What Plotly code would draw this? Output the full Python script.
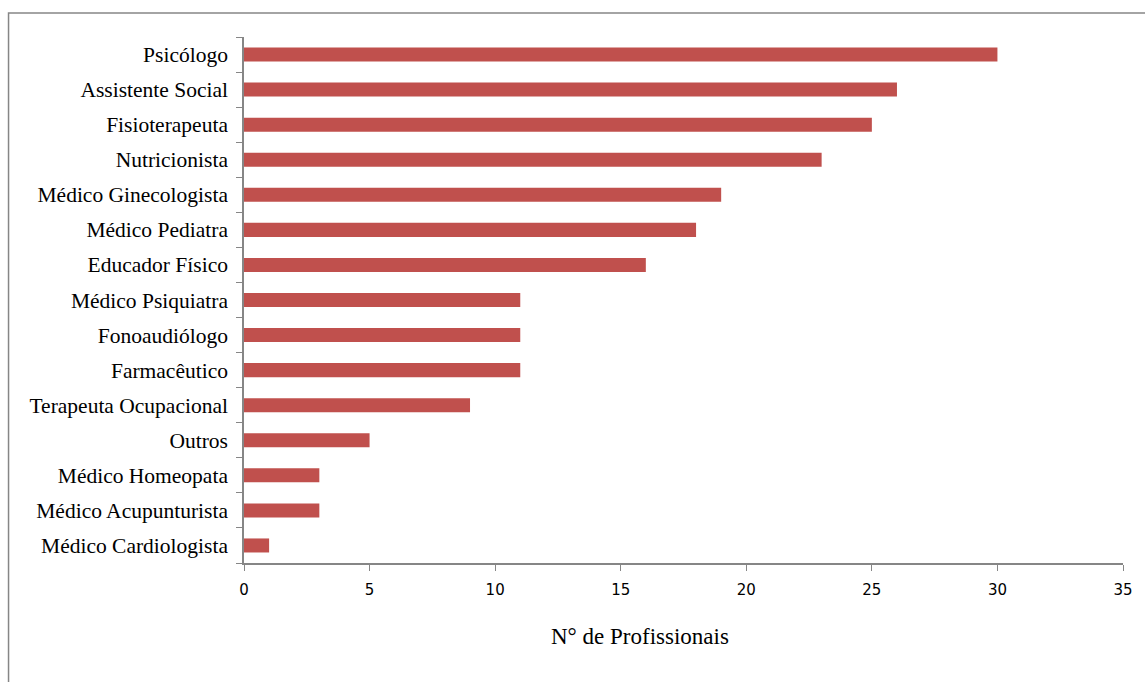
import plotly.graph_objects as go

# Professionals by specialty (bottom to top in drawing order)
categories = [
    "Médico Cardiologista", "Médico Acupunturista", "Médico Homeopata", "Outros",
    "Terapeuta Ocupacional", "Farmacêutico", "Fonoaudiólogo", "Médico Psiquiatra",
    "Educador Físico", "Médico Pediatra", "Médico Ginecologista", "Nutricionista",
    "Fisioterapeuta", "Assistente Social", "Psicólogo",
]
counts = [1, 3, 3, 5, 9, 11, 11, 11, 16, 18, 19, 23, 25, 26, 30]
x_ticks = [0, 5, 10, 15, 20, 25, 30, 35]

W, H = 1145, 682
L, R, T, B = 244, 20, 37, 119
pw, ph = W - L - R, H - T - B

fig = go.Figure(go.Bar(
    x=counts, y=categories, orientation="h",
    marker=dict(color="#C0504D", line=dict(width=0)),
    width=0.4,
))

axis_col = "#868686"
fig.update_layout(
    width=W, height=H,
    margin=dict(l=L, r=R, t=T, b=B, pad=0),
    paper_bgcolor="white", plot_bgcolor="white",
    showlegend=False,
    xaxis=dict(
        range=[0, 35], tickvals=x_ticks, showgrid=False, zeroline=False,
        showline=True, linecolor=axis_col, linewidth=1.5,
        ticks="outside", ticklen=6, tickcolor=axis_col, tickwidth=1,
        tickfont=dict(family="DejaVu Sans", size=15, color="#000000"),
        ticklabelstandoff=6,
    ),
    yaxis=dict(
        showgrid=False, zeroline=False, tickson="boundaries",
        showline=True, linecolor=axis_col, linewidth=1.5,
        ticks="outside", ticklen=6, tickcolor=axis_col, tickwidth=1,
        tickfont=dict(family="Liberation Serif", size=21.5, color="#000000"),
        ticklabelstandoff=10,
    ),
    annotations=[dict(
        text="N° de Profissionais", xref="paper", yref="paper",
        x=(641 - L) / pw, y=(H - B - 636) / ph, xanchor="center", yanchor="middle",
        showarrow=False, font=dict(family="Liberation Serif", size=23, color="#000000"),
    )],
    shapes=[dict(
        type="rect", xref="paper", yref="paper",
        x0=(8 - L) / pw, x1=(W + 10 - L) / pw,
        y0=(H - B - (H + 10)) / ph, y1=(H - B - 13) / ph,
        line=dict(color=axis_col, width=1.5), fillcolor="rgba(0,0,0,0)",
        layer="below",
    )],
)

fig.write_html("out.html")
